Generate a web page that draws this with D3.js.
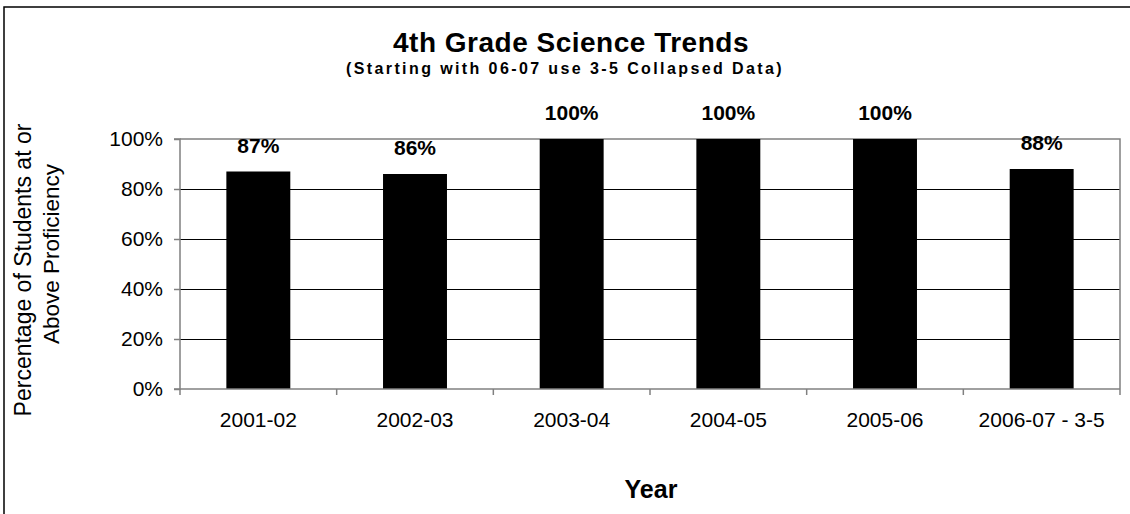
<!DOCTYPE html>
<html>
<head>
<meta charset="utf-8">
<script src="https://d3js.org/d3.v7.min.js"></script>
<style>
body { margin: 0; background: #fff; }
svg text { font-family: Arial, "Liberation Sans", Helvetica, sans-serif; fill: #000; }
</style>
</head>
<body>
<svg id="chart" width="1130" height="514"></svg>
<script>
// chart data
var years = ["2001-02", "2002-03", "2003-04", "2004-05", "2005-06", "2006-07 - 3-5"];
var percents = [87, 86, 100, 100, 100, 88];
var yTicks = [0, 20, 40, 60, 80, 100];

var svg = d3.select("#chart");

// outer chart border (runs off the right and bottom edges)
svg.append("rect")
  .attr("x", 4).attr("y", 7)
  .attr("width", 1160).attr("height", 540)
  .attr("fill", "#fff")
  .attr("stroke", "#000")
  .attr("stroke-width", 1.5);

var plotL = 180, plotR = 1120, plotT = 139, plotB = 389;

var x = d3.scaleBand()
  .domain(years)
  .range([plotL, plotR])
  .padding(0);

var y = d3.scaleLinear()
  .domain([0, 100])
  .range([plotB, plotT]);

// gridlines (half pixel offset keeps them crisp)
svg.append("g")
  .selectAll("line")
  .data(yTicks.filter(function(d) { return d > 0 && d < 100; }))
  .enter().append("line")
  .attr("x1", plotL).attr("x2", plotR)
  .attr("y1", function(d) { return Math.round(y(d)) + 0.5; })
  .attr("y2", function(d) { return Math.round(y(d)) + 0.5; })
  .attr("stroke", "#000")
  .attr("stroke-width", 1);

// plot border top / right
svg.append("path")
  .attr("d", "M" + plotL + "," + plotT + "H" + plotR + "V" + plotB)
  .attr("fill", "none")
  .attr("stroke", "#808080")
  .attr("stroke-width", 1.5);

// bars
var barW = x.bandwidth() / 2.45;
svg.append("g")
  .selectAll("rect")
  .data(percents)
  .enter().append("rect")
  .attr("x", function(d, i) { return x(years[i]) + x.bandwidth() / 2 - barW / 2; })
  .attr("y", function(d) { return y(d); })
  .attr("width", barW)
  .attr("height", function(d) { return y(0) - y(d); })
  .attr("fill", "#000");

// y axis
var yAxis = svg.append("g")
  .attr("transform", "translate(" + plotL + ",0)")
  .call(d3.axisLeft(y).tickValues(yTicks).tickSize(6).tickPadding(11)
    .tickFormat(function(d) { return d + "%"; }));
yAxis.selectAll("path, line").attr("stroke", "#808080").attr("stroke-width", 1.5);
yAxis.select(".domain").attr("d", "M-6," + plotB + "H0V" + plotT + "H-6");
yAxis.selectAll("text")
  .attr("font-size", "21px")
  .attr("font-family", "Arial, 'Liberation Sans', sans-serif")
  .attr("fill", "#000")
  .attr("dy", "0.33em");

// x axis with ticks at category boundaries
var xAxis = svg.append("g")
  .attr("transform", "translate(0," + plotB + ")")
  .call(d3.axisBottom(x).tickSize(0).tickPadding(30));
xAxis.select(".domain").attr("stroke", "#808080").attr("stroke-width", 1.5)
  .attr("d", "M" + plotL + ",0H" + plotR);
xAxis.selectAll("text")
  .attr("font-size", "21px")
  .attr("font-family", "Arial, 'Liberation Sans', sans-serif")
  .attr("fill", "#000")
  .attr("y", 38).attr("dy", 0);
xAxis.append("g")
  .selectAll("line")
  .data(years.concat(["end"]))
  .enter().append("line")
  .attr("x1", function(d, i) { return plotL + i * x.step(); })
  .attr("x2", function(d, i) { return plotL + i * x.step(); })
  .attr("y1", 0).attr("y2", 6)
  .attr("stroke", "#808080")
  .attr("stroke-width", 1.5);

// value labels
svg.append("g")
  .selectAll("text")
  .data(percents)
  .enter().append("text")
  .attr("x", function(d, i) { return x(years[i]) + x.bandwidth() / 2; })
  .attr("y", function(d) { return y(d) - 19; })
  .attr("text-anchor", "middle")
  .attr("font-size", "21px")
  .attr("font-weight", "bold")
  .text(function(d) { return d + "%"; });

// titles
svg.append("text")
  .attr("x", 571).attr("y", 52)
  .attr("text-anchor", "middle")
  .attr("font-size", "28px")
  .attr("font-weight", "bold")
  .attr("letter-spacing", "0.5px")
  .text("4th Grade Science Trends");

svg.append("text")
  .attr("x", 565).attr("y", 74)
  .attr("text-anchor", "middle")
  .attr("font-size", "16px")
  .attr("font-weight", "bold")
  .attr("letter-spacing", "2.4px")
  .text("(Starting with 06-07 use 3-5 Collapsed Data)");

svg.append("text")
  .attr("x", 651).attr("y", 498)
  .attr("text-anchor", "middle")
  .attr("font-size", "25px")
  .attr("font-weight", "bold")
  .text("Year");

// y axis title, two lines
svg.append("text")
  .attr("transform", "translate(31,270) rotate(-90)")
  .attr("text-anchor", "middle")
  .attr("font-size", "23px")
  .text("Percentage of Students at or");
svg.append("text")
  .attr("transform", "translate(59,254) rotate(-90)")
  .attr("text-anchor", "middle")
  .attr("font-size", "22.5px")
  .text("Above Proficiency");
</script>
</body>
</html>
